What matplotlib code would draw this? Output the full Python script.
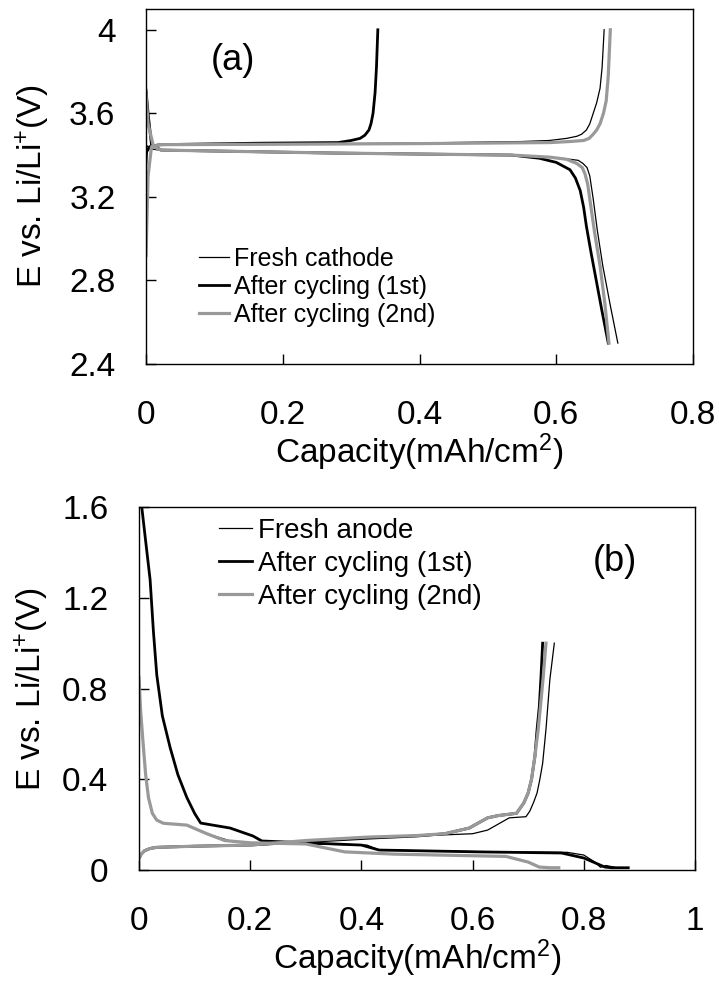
import numpy as np
import matplotlib
matplotlib.use("Agg")
import matplotlib.pyplot as plt

plt.rcParams['font.family'] = ['Liberation Sans', 'DejaVu Sans']
plt.rcParams['mathtext.default'] = 'regular'

# ---- panel (a): cathode, (capacity mAh/cm2, voltage V) ----
fresh_cat_chg_x = [0.0, 0.002, 0.008, 0.05, 0.2, 0.4, 0.55, 0.59, 0.615, 0.63, 0.637, 0.644, 0.649, 0.654, 0.659, 0.664, 0.667, 0.670]
fresh_cat_chg_y = [3.30, 3.42, 3.445, 3.448, 3.452, 3.458, 3.465, 3.47, 3.48, 3.49, 3.50, 3.52, 3.55, 3.60, 3.65, 3.72, 3.82, 4.00]
fresh_cat_dis_x = [0.0, 0.005, 0.02, 0.27, 0.535, 0.591, 0.62, 0.632, 0.639, 0.645, 0.649, 0.654, 0.660, 0.668, 0.679, 0.690]
fresh_cat_dis_y = [3.45, 3.43, 3.424, 3.41, 3.40, 3.39, 3.38, 3.375, 3.36, 3.34, 3.30, 3.19, 3.04, 2.87, 2.68, 2.50]

cyc1_cat_chg_x = [0.0, 0.005, 0.02, 0.165, 0.281, 0.30, 0.313, 0.320, 0.326, 0.329, 0.332, 0.335, 0.337, 0.339]
cyc1_cat_chg_y = [3.41, 3.44, 3.45, 3.457, 3.46, 3.47, 3.48, 3.495, 3.52, 3.55, 3.60, 3.70, 3.82, 4.00]
cyc1_cat_dis_x = [0.0, 0.003, 0.008, 0.022, 0.27, 0.535, 0.575, 0.60, 0.62, 0.628, 0.635, 0.640, 0.644, 0.651, 0.659, 0.667, 0.676]
cyc1_cat_dis_y = [3.71, 3.60, 3.45, 3.424, 3.41, 3.40, 3.385, 3.365, 3.33, 3.29, 3.23, 3.15, 3.06, 2.93, 2.79, 2.65, 2.50]

cyc2_cat_chg_x = [0.0, 0.003, 0.008, 0.02, 0.2, 0.4, 0.591, 0.62, 0.64, 0.648, 0.654, 0.659, 0.664, 0.669, 0.673, 0.676, 0.679]
cyc2_cat_chg_y = [2.92, 3.30, 3.44, 3.45, 3.452, 3.455, 3.46, 3.465, 3.47, 3.48, 3.50, 3.52, 3.55, 3.60, 3.66, 3.78, 4.00]
cyc2_cat_dis_x = [0.0, 0.003, 0.011, 0.022, 0.27, 0.535, 0.591, 0.615, 0.630, 0.638, 0.642, 0.646, 0.649, 0.656, 0.664, 0.671, 0.677]
cyc2_cat_dis_y = [3.69, 3.55, 3.44, 3.424, 3.41, 3.40, 3.39, 3.38, 3.36, 3.34, 3.31, 3.26, 3.19, 3.03, 2.87, 2.69, 2.50]

# ---- panel (b): anode ----
fresh_an_dis_x = [0.0, 0.003, 0.008, 0.012, 0.017, 0.024, 0.032, 0.044, 0.086, 0.122, 0.17, 0.2, 0.3, 0.41, 0.43, 0.5, 0.65, 0.77, 0.80, 0.82, 0.83, 0.84, 0.86]
fresh_an_dis_y = [0.85, 0.70, 0.54, 0.42, 0.32, 0.25, 0.22, 0.206, 0.198, 0.16, 0.124, 0.12, 0.115, 0.11, 0.09, 0.085, 0.08, 0.078, 0.066, 0.035, 0.012, 0.02, 0.01]
fresh_an_chg_x = [0.0, 0.004, 0.01, 0.02, 0.032, 0.1, 0.2, 0.3, 0.41, 0.5, 0.6, 0.627, 0.666, 0.696, 0.703, 0.710, 0.716, 0.721, 0.726, 0.732, 0.739, 0.747]
fresh_an_chg_y = [0.05, 0.07, 0.085, 0.095, 0.10, 0.105, 0.11, 0.125, 0.14, 0.15, 0.16, 0.176, 0.23, 0.235, 0.26, 0.30, 0.34, 0.40, 0.47, 0.62, 0.84, 1.00]

cyc1_an_dis_x = [0.005, 0.012, 0.02, 0.026, 0.032, 0.042, 0.056, 0.07, 0.086, 0.10, 0.111, 0.164, 0.205, 0.221, 0.3, 0.40, 0.432, 0.5, 0.61, 0.76, 0.80, 0.838, 0.85, 0.88]
cyc1_an_dis_y = [1.60, 1.45, 1.28, 1.05, 0.86, 0.68, 0.54, 0.42, 0.32, 0.25, 0.207, 0.185, 0.15, 0.128, 0.12, 0.11, 0.088, 0.085, 0.08, 0.075, 0.053, 0.013, 0.01, 0.01]
cyc1_an_chg_x = [0.0, 0.004, 0.01, 0.02, 0.032, 0.1, 0.2, 0.3, 0.41, 0.5, 0.55, 0.594, 0.627, 0.646, 0.679, 0.692, 0.700, 0.706, 0.712, 0.716, 0.720, 0.723, 0.726]
cyc1_an_chg_y = [0.05, 0.07, 0.085, 0.095, 0.10, 0.105, 0.11, 0.125, 0.14, 0.15, 0.16, 0.185, 0.23, 0.24, 0.25, 0.295, 0.34, 0.40, 0.50, 0.62, 0.72, 0.85, 1.00]

cyc2_an_dis_x = [0.0, 0.003, 0.008, 0.012, 0.017, 0.024, 0.032, 0.044, 0.086, 0.122, 0.154, 0.2, 0.30, 0.34, 0.37, 0.46, 0.66, 0.70, 0.72, 0.74, 0.755]
cyc2_an_dis_y = [0.85, 0.70, 0.54, 0.42, 0.32, 0.25, 0.22, 0.206, 0.198, 0.16, 0.13, 0.12, 0.115, 0.095, 0.08, 0.07, 0.06, 0.035, 0.013, 0.01, 0.01]
cyc2_an_chg_x = [0.0, 0.004, 0.01, 0.02, 0.032, 0.1, 0.2, 0.3, 0.41, 0.5, 0.55, 0.594, 0.627, 0.646, 0.679, 0.692, 0.700, 0.706, 0.712, 0.718, 0.722, 0.727, 0.732]
cyc2_an_chg_y = [0.05, 0.07, 0.085, 0.095, 0.10, 0.105, 0.11, 0.13, 0.145, 0.152, 0.16, 0.185, 0.23, 0.24, 0.25, 0.295, 0.34, 0.40, 0.50, 0.62, 0.72, 0.85, 1.00]

a_labels = ["Fresh cathode", "After cycling (1st)", "After cycling (2nd)"]
b_labels = ["Fresh anode", "After cycling (1st)", "After cycling (2nd)"]

thin = dict(color='black', lw=0.9)
thick = dict(color='black', lw=2.0)
grey = dict(color='#999999', lw=2.3)

fig = plt.figure(figsize=(7.19, 9.89), dpi=100)
ax1 = fig.add_axes([0.2031, 0.6320, 0.7608, 0.3590])
ax2 = fig.add_axes([0.1933, 0.1203, 0.7733, 0.3670])

# panel a
l1, = ax1.plot(fresh_cat_chg_x, fresh_cat_chg_y, **thin)
ax1.plot(fresh_cat_dis_x, fresh_cat_dis_y, **thin)
l2, = ax1.plot(cyc1_cat_chg_x, cyc1_cat_chg_y, **thick)
ax1.plot(cyc1_cat_dis_x, cyc1_cat_dis_y, **thick)
l3, = ax1.plot(cyc2_cat_chg_x, cyc2_cat_chg_y, **grey)
ax1.plot(cyc2_cat_dis_x, cyc2_cat_dis_y, **grey)
ax1.set_xlim(0, 0.8)
ax1.set_ylim(2.4, 4.1)
ax1.set_xticks([0, 0.2, 0.4, 0.6, 0.8])
ax1.set_xticklabels(['0', '0.2', '0.4', '0.6', '0.8'])
ax1.set_yticks([2.4, 2.8, 3.2, 3.6, 4.0])
ax1.set_yticklabels(['2.4', '2.8', '3.2', '3.6', '4'])
ax1.legend([l1, l2, l3], a_labels, loc='center left', bbox_to_anchor=(0.097, 0.217),
           frameon=False, fontsize=18, handlelength=1.2, handletextpad=0.2,
           labelspacing=0.15, borderpad=0, borderaxespad=0)
ax1.text(0.159, 0.856, '(a)', transform=ax1.transAxes, fontsize=26, ha='center', va='center')

# panel b
m1, = ax2.plot(fresh_an_dis_x, fresh_an_dis_y, **thin)
ax2.plot(fresh_an_chg_x, fresh_an_chg_y, **thin)
m2, = ax2.plot(cyc1_an_dis_x, cyc1_an_dis_y, **thick)
ax2.plot(cyc1_an_chg_x, cyc1_an_chg_y, **thick)
m3, = ax2.plot(cyc2_an_dis_x, cyc2_an_dis_y, **grey)
ax2.plot(cyc2_an_chg_x, cyc2_an_chg_y, **grey)
ax2.set_xlim(0, 1)
ax2.set_ylim(0, 1.6)
ax2.set_xticks([0, 0.2, 0.4, 0.6, 0.8, 1.0])
ax2.set_xticklabels(['0', '0.2', '0.4', '0.6', '0.8', '1'])
ax2.set_yticks([0, 0.4, 0.8, 1.2, 1.6])
ax2.set_yticklabels(['0', '0.4', '0.8', '1.2', '1.6'])
ax2.legend([m1, m2, m3], b_labels, loc='center left', bbox_to_anchor=(0.144, 0.843),
           frameon=False, fontsize=20, handlelength=1.2, handletextpad=0.2,
           labelspacing=0.25, borderpad=0, borderaxespad=0)
ax2.text(0.856, 0.851, '(b)', transform=ax2.transAxes, fontsize=26, ha='center', va='center')

for ax in (ax1, ax2):
    ax.tick_params(direction='in', length=7, width=1, labelsize=24)
    ax.tick_params(axis='x', pad=26)
    ax.tick_params(axis='y', pad=22)
    for s in ax.spines.values():
        s.set_linewidth(1)
    ax.set_xlabel('Capacity(mAh/cm$^2$)', fontsize=24, labelpad=0)
    ax.set_ylabel('E vs. Li/Li$^{+}$(V)', fontsize=24)
ax1.yaxis.set_label_coords(-0.172, 0.5)
ax2.yaxis.set_label_coords(-0.158, 0.5)

fig.savefig('out.png', dpi=100)
